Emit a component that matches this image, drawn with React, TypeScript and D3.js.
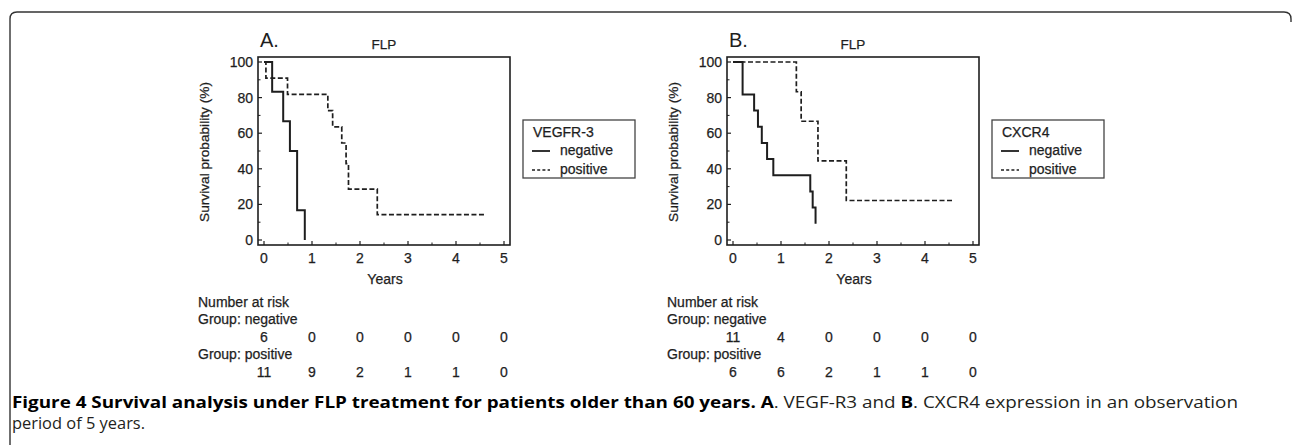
import * as d3 from 'd3'

// survival curves (years, percent)
const aNegTimes = [0, 0.17, 0.4, 0.54, 0.69, 0.85]
const aNegSurv = [100, 83.3, 66.7, 50, 16.7, 0]
const aPosTimes = [0, 0.04, 0.49, 1.33, 1.43, 1.62, 1.71, 1.76, 2.36, 4.63]
const aPosSurv = [100, 90.9, 81.8, 72.7, 63.6, 54.5, 42.9, 28.6, 14.3, 14.3]

const bNegTimes = [0, 0.2, 0.44, 0.52, 0.6, 0.71, 0.84, 1.61, 1.66, 1.72]
const bNegSurv = [100, 81.8, 72.7, 63.6, 54.5, 45.5, 36.4, 27.3, 18.2, 9.1]
const bPosTimes = [0, 1.32, 1.42, 1.77, 2.36, 4.6]
const bPosSurv = [100, 83.3, 66.7, 44.4, 22.2, 22.2]

const yearTicks = [0, 1, 2, 3, 4, 5]
const survTicks = [0, 20, 40, 60, 80, 100]

const aRiskNeg = [6, 0, 0, 0, 0, 0]
const aRiskPos = [11, 9, 2, 1, 1, 0]
const bRiskNeg = [11, 4, 0, 0, 0, 0]
const bRiskPos = [6, 6, 2, 1, 1, 0]

const groups = ['negative', 'positive']

const FONT = '"Liberation Sans", Arial, sans-serif'
const INK = '#1e1e1e'

interface PanelProps {
  dx: number
  letter: string
  marker: string
  negT: number[]
  negS: number[]
  posT: number[]
  posS: number[]
  riskNeg: number[]
  riskPos: number[]
}

function Panel({ dx, letter, marker, negT, negS, posT, posS, riskNeg, riskPos }: PanelProps) {
  const box = { left: 258, right: 510, top: 57, bottom: 245 }
  const x = d3.scaleLinear().domain([0, 5]).range([264, 504])
  const y = d3.scaleLinear().domain([0, 100]).range([240, 62])

  const line = d3.line<[number, number]>()
    .x(d => x(d[0]))
    .y(d => y(d[1]))
    .curve(d3.curveStepAfter)

  const neg = negT.map((t, i) => [t, negS[i]] as [number, number])
  const pos = posT.map((t, i) => [t, posS[i]] as [number, number])

  const minorY = d3.range(10, 100, 20)
  const minorX = d3.range(0.5, 5, 1)

  return (
    <g transform={`translate(${dx},0)`} fontFamily={FONT} fill={INK}>
      <g stroke={INK} strokeWidth={0.25}>
        <text x={260} y={47} fontSize={20} strokeWidth={0}>{letter}.</text>
        <text x={(box.left + box.right) / 2} y={49} fontSize={13.5} textAnchor="middle">FLP</text>

        {survTicks.map(t => (
          <text key={'yl' + t} x={253} y={y(t)} dy="0.35em" fontSize={14} textAnchor="end">{t}</text>
        ))}
        <text transform={`translate(209,152) rotate(-90)`} fontSize={13.7} textAnchor="middle">
          Survival probability (%)
        </text>
        {yearTicks.map(t => (
          <text key={'xl' + t} x={x(t)} y={263} fontSize={14} textAnchor="middle">{t}</text>
        ))}
        <text x={385} y={284} fontSize={14} textAnchor="middle">Years</text>

        {/* number at risk */}
        <text x={198} y={307} fontSize={14}>Number at risk</text>
        <text x={198} y={324} fontSize={14}>Group: {groups[0]}</text>
        {riskNeg.map((n, i) => (
          <text key={'rn' + i} x={x(yearTicks[i])} y={342} fontSize={14} textAnchor="middle">{n}</text>
        ))}
        <text x={198} y={359} fontSize={14}>Group: {groups[1]}</text>
        {riskPos.map((n, i) => (
          <text key={'rp' + i} x={x(yearTicks[i])} y={377} fontSize={14} textAnchor="middle">{n}</text>
        ))}
      </g>

      {/* plot frame */}
      <rect x={box.left} y={box.top} width={box.right - box.left} height={box.bottom - box.top}
        fill="none" stroke={INK} strokeWidth={1.6} />

      {survTicks.map(t => (
        <line key={'y' + t} x1={box.left} x2={box.left + 4} y1={y(t)} y2={y(t)} stroke={INK} strokeWidth={1.2} />
      ))}
      {minorY.map(t => (
        <line key={'my' + t} x1={box.left} x2={box.left + 2.5} y1={y(t)} y2={y(t)} stroke={INK} strokeWidth={1} />
      ))}
      {yearTicks.map(t => (
        <line key={'x' + t} x1={x(t)} x2={x(t)} y1={box.bottom} y2={box.bottom - 4} stroke={INK} strokeWidth={1.2} />
      ))}
      {minorX.map(t => (
        <line key={'mx' + t} x1={x(t)} x2={x(t)} y1={box.bottom} y2={box.bottom - 2.5} stroke={INK} strokeWidth={1} />
      ))}

      {/* curves */}
      <path d={line(neg) ?? ''} fill="none" stroke={INK} strokeWidth={2} />
      <path d={line(pos) ?? ''} fill="none" stroke={INK} strokeWidth={1.7} strokeDasharray="5,2.5" />

      {/* legend */}
      <rect x={523} y={120} width={112} height={58} fill="#fff" stroke="#444" strokeWidth={1.3} />
      <g stroke={INK} strokeWidth={0.25}>
        <text x={533} y={137} fontSize={14}>{marker}</text>
        <text x={560} y={155} fontSize={14}>{groups[0]}</text>
        <text x={560} y={174} fontSize={14}>{groups[1]}</text>
      </g>
      <line x1={532} x2={550} y1={151} y2={151} stroke={INK} strokeWidth={1.8} />
      <line x1={532} x2={550} y1={170} y2={170} stroke={INK} strokeWidth={1.6} strokeDasharray="3,2.2" />
    </g>
  )
}

export default function App() {
  return (
    <svg width={1292} height={445} style={{ position: 'absolute', left: 0, top: 0, background: '#fff' }}>
      <path d="M10,445 V19 Q10,12 17,12 H1284 Q1291,12 1291,19 V22" fill="none" stroke="#333" strokeWidth={1.4} />

      <Panel dx={0} letter="A" marker="VEGFR-3" negT={aNegTimes} negS={aNegSurv}
        posT={aPosTimes} posS={aPosSurv} riskNeg={aRiskNeg} riskPos={aRiskPos} />
      <Panel dx={469} letter="B" marker="CXCR4" negT={bNegTimes} negS={bNegSurv}
        posT={bPosTimes} posS={bPosSurv} riskNeg={bRiskNeg} riskPos={bRiskPos} />

      <g fontFamily='"Open Sans", "Noto Sans", sans-serif' fontSize={16} fill="#231f20">
        <text x={12} y={408} textLength={1226} lengthAdjust="spacingAndGlyphs">
          <tspan fontWeight="bold" fill="#000">Figure 4 Survival analysis under FLP treatment for patients older than 60 years. </tspan>
          <tspan fontWeight="bold" fill="#000">A</tspan>
          <tspan>. VEGF-R3 and </tspan>
          <tspan fontWeight="bold" fill="#000">B</tspan>
          <tspan>. CXCR4 expression in an observation</tspan>
        </text>
        <text x={12} y={429} textLength={133} lengthAdjust="spacingAndGlyphs">period of 5 years.</text>
      </g>
    </svg>
  )
}
